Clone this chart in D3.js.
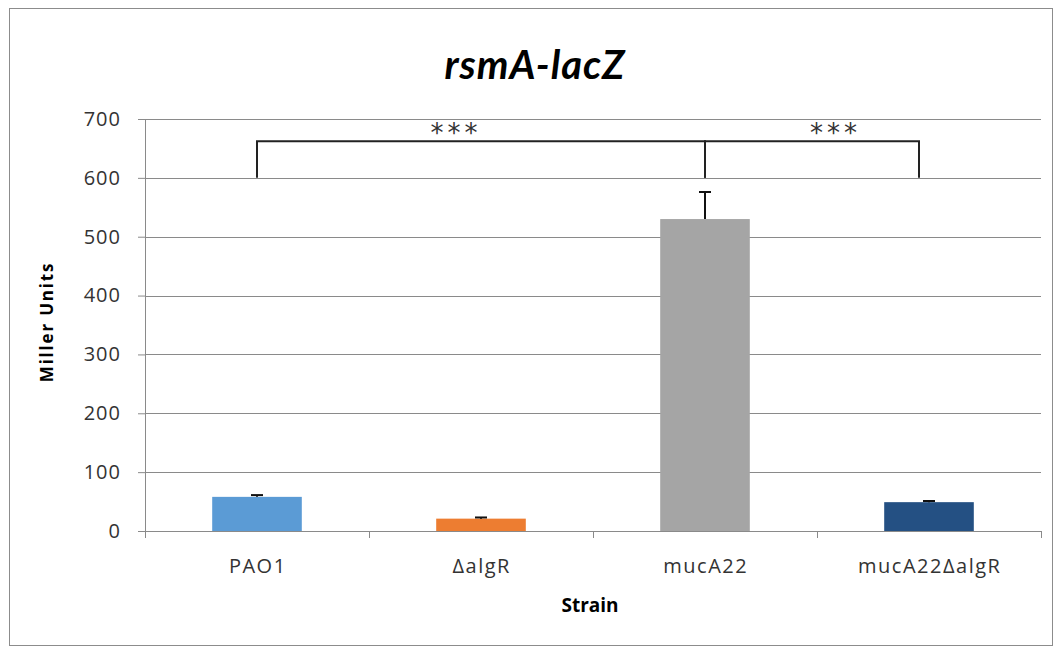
<!DOCTYPE html>
<html>
<head>
<meta charset="utf-8">
<script src="https://cdn.jsdelivr.net/npm/d3@7"></script>
<style>
  body { margin: 0; background: #fff; }
  text { font-family: 'Open Sans', 'DejaVu Sans', sans-serif; fill: #222; }
  .grid line { stroke: #8a8a8a; }
  .axis path, .axis line { stroke: #8a8a8a; }
</style>
</head>
<body>
<div id="root"></div>
<script>
const strains = ['PAO1', '\u0394algR', 'mucA22', 'mucA22\u0394algR'];
const millerUnits = [58, 21, 530, 49];
const errorTop = [61, 23, 576, 51];
const barColors = ['#5b9bd5', '#ed7d31', '#a5a5a5', '#245083'];
const yTicks = [0, 100, 200, 300, 400, 500, 600, 700];
// significance brackets: from strain, to strain, leg bottom, bracket top, label position along bracket
const brackets = [
  { from: 'PAO1', to: 'mucA22', bottom: 600, top: 662, labelAt: 0.44, label: '***' },
  { from: 'mucA22', to: 'mucA22\u0394algR', bottom: 600, top: 662, labelAt: 0.6, label: '***', shrink: 10 },
];

const svgWidth = 1060;
const svgHeight = 649;
const margin = { top: 119, right: 19, bottom: 118, left: 145 };

const svg = d3.select('#root').append('svg')
  .attr('width', svgWidth)
  .attr('height', svgHeight);

svg.append('rect')
  .attr('x', 9.5).attr('y', 8.5)
  .attr('width', 1043).attr('height', 637)
  .attr('fill', 'none')
  .attr('stroke', '#8c8c8c');

svg.append('text')
  .attr('x', 535)
  .attr('y', 79)
  .attr('text-anchor', 'middle')
  .style('font-family', 'Lato, sans-serif')
  .style('font-weight', 'bold')
  .style('font-style', 'italic')
  .style('font-size', '40px')
  .style('letter-spacing', '1px')
  .style('fill', '#000')
  .text('rsmA-lacZ');

const chart = svg.append('g')
  .attr('transform', `translate(${margin.left}, ${margin.top})`);

const chartWidth = svgWidth - margin.left - margin.right;
const chartHeight = svgHeight - margin.top - margin.bottom;

const xScale = d3.scaleBand()
  .domain(strains)
  .range([0, chartWidth]);

const barScale = d3.scaleBand()
  .domain(strains)
  .paddingInner(0.6)
  .paddingOuter(0.3)
  .range([0, chartWidth]);

const yScale = d3.scaleLinear()
  .domain([0, 700])
  .range([chartHeight, 0]);

chart.append('g')
  .attr('class', 'grid')
  .selectAll('line')
  .data(yTicks.filter(d => d > 0))
  .enter()
  .append('line')
  .attr('x1', 0)
  .attr('x2', chartWidth)
  .attr('y1', d => Math.round(yScale(d)) + 0.5)
  .attr('y2', d => Math.round(yScale(d)) + 0.5);

const yAxis = d3.axisLeft(yScale)
  .tickValues(yTicks)
  .tickSize(7)
  .tickPadding(17)
  .tickSizeOuter(0);

chart.append('g')
  .attr('class', 'axis')
  .call(yAxis)
  .call(g => g.selectAll('text')
    .style('font-size', '20px')
    .style('letter-spacing', '1px')
    .style('fill', '#333'));

chart.selectAll('rect.bar')
  .data(strains)
  .enter()
  .append('rect')
  .attr('class', 'bar')
  .attr('x', d => barScale(d))
  .attr('y', (d, i) => yScale(millerUnits[i]))
  .attr('width', barScale.bandwidth())
  .attr('height', (d, i) => yScale(0) - yScale(millerUnits[i]))
  .attr('fill', (d, i) => barColors[i]);

const errors = chart.append('g')
  .attr('stroke', '#111')
  .attr('stroke-width', 2);

strains.forEach((s, i) => {
  const cx = barScale(s) + barScale.bandwidth() / 2;
  errors.append('line')
    .attr('x1', cx).attr('x2', cx)
    .attr('y1', yScale(millerUnits[i]))
    .attr('y2', yScale(errorTop[i]));
  errors.append('line')
    .attr('x1', cx - 6).attr('x2', cx + 6)
    .attr('y1', yScale(errorTop[i]))
    .attr('y2', yScale(errorTop[i]));
});

const xAxisG = chart.append('g')
  .attr('class', 'axis')
  .attr('transform', `translate(0, ${chartHeight})`);

xAxisG.append('line')
  .attr('x1', 0).attr('x2', chartWidth)
  .attr('y1', 0.5).attr('y2', 0.5);

xAxisG.selectAll('line.tick')
  .data(strains.map(d => xScale(d)).concat([chartWidth]))
  .enter()
  .append('line')
  .attr('class', 'tick')
  .attr('x1', d => d + 0.5).attr('x2', d => d + 0.5)
  .attr('y1', 0).attr('y2', 7);

xAxisG.selectAll('text')
  .data(strains)
  .enter()
  .append('text')
  .attr('x', d => xScale(d) + xScale.bandwidth() / 2 + 0.75)
  .attr('y', 42)
  .attr('text-anchor', 'middle')
  .style('font-size', '20px')
  .style('letter-spacing', '1.5px')
  .style('fill', '#333')
  .text(d => d);

svg.append('text')
  .attr('x', 590)
  .attr('y', 612)
  .attr('text-anchor', 'middle')
  .style('font-weight', 'bold')
  .style('font-size', '19px')
  .style('fill', '#000')
  .text('Strain');

svg.append('text')
  .attr('transform', `translate(53, 322) rotate(-90)`)
  .attr('text-anchor', 'middle')
  .style('font-weight', 'bold')
  .style('font-size', '17px')
  .style('letter-spacing', '1.8px')
  .style('fill', '#000')
  .text('Miller Units');

const bracketG = chart.append('g');

brackets.forEach(b => {
  const x1 = xScale(b.from) + xScale.bandwidth() / 2;
  const x2 = xScale(b.to) + xScale.bandwidth() / 2 - (b.shrink || 0);
  const yb = yScale(b.bottom);
  const yt = yScale(b.top);
  bracketG.append('path')
    .attr('d', `M${x1},${yb}V${yt}H${x2}V${yb}`)
    .attr('fill', 'none')
    .attr('stroke', '#222')
    .attr('stroke-width', 2);
  bracketG.append('text')
    .attr('x', x1 + (x2 - x1) * b.labelAt + 2)
    .attr('y', yt + 1)
    .attr('text-anchor', 'middle')
    .style('font-family', 'DejaVu Sans, sans-serif')
    .style('font-size', '26px')
    .style('letter-spacing', '4px')
    .style('fill', '#333')
    .text(b.label);
});
</script>
</body>
</html>
